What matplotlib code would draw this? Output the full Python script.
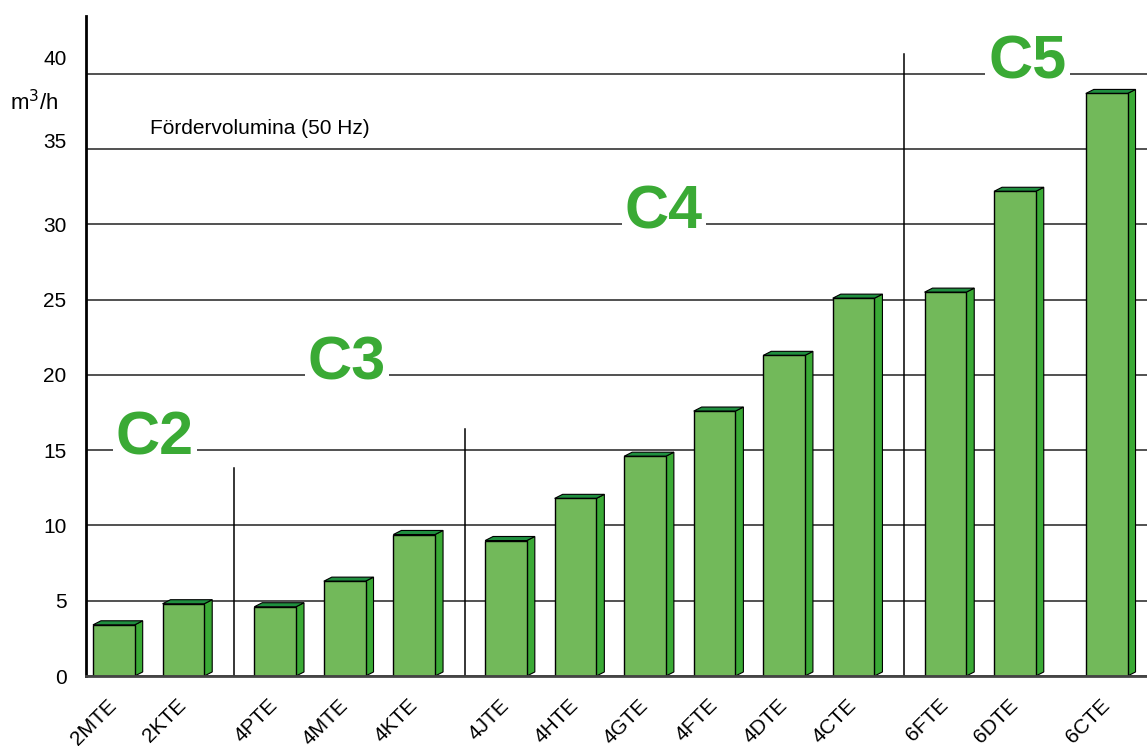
import matplotlib as mpl
mpl.use('Agg')
import matplotlib.pyplot as plt
from matplotlib.patches import Polygon
import numpy as np

plt.rcParams['font.family'] = ['Liberation Sans', 'DejaVu Sans']

# Data: pump models grouped by series, flow in m3/h (50 Hz)
groups = ['C2', 'C3', 'C4', 'C5']
models = [['2MTE', '2KTE'],
          ['4PTE', '4MTE', '4KTE'],
          ['4JTE', '4HTE', '4GTE', '4FTE', '4DTE', '4CTE'],
          ['6FTE', '6DTE', '6CTE']]
flows = [[3.4, 4.8],
         [4.6, 6.3, 9.4],
         [9.0, 11.8, 14.6, 17.6, 21.3, 25.1],
         [25.5, 32.2, 38.7]]
group_label_y = [15, 20, 30, 40]
grid_values = [0, 5, 10, 15, 20, 25, 30, 35, 40]
tick_label_pos = [0, 5, 10, 15, 20, 25, 30, 35.6, 41.1]
separator_tops = [13.8, 16.4, 41.3]

FACE = '#72b95a'
SIDE = '#3aaa35'
TOP = '#1f8f3f'
TEXT_GREEN = '#3aaa35'

gap = 0.32
width = 0.6
depth_x = 0.115
depth_y = 0.27

# x positions with an extra gap between groups (and before 6CTE)
xs, labels, vals = [], [], []
pos = 0.0
group_x = []
for gi, (names, vs) in enumerate(zip(models, flows)):
    start = pos
    for j, (n, v) in enumerate(zip(names, vs)):
        if n == '6CTE':
            pos += gap
        xs.append(pos)
        labels.append(n)
        vals.append(v)
        pos += 1
    group_x.append((start, pos - 1))
    pos += gap
xs = np.array(xs)

fig = plt.figure(figsize=(11.47, 7.46), dpi=100)
ax = fig.add_axes([0.075, 0.0938, 0.925, 0.8848])

ax.set_xlim(-0.40, 14.86)
ax.set_ylim(0, 43.85)

# gridlines
for g in grid_values:
    ax.axhline(g, color='#222222', lw=1.1, zorder=1)

# group separators
sep_x = [(group_x[i][1] + group_x[i + 1][0]) / 2 + 0.07 for i in range(3)]
for sx, top in zip(sep_x, separator_tops):
    ax.plot([sx, sx], [0, top], color='black', lw=1.1, zorder=1)

# 3D-ish bars
ax.bar(xs, vals, width=width, color=FACE, edgecolor='black', lw=1.0, zorder=3)
for x, v in zip(xs, vals):
    r = x + width / 2
    l = x - width / 2
    side = Polygon([[r, 0], [r + depth_x, depth_y], [r + depth_x, v + depth_y], [r, v]],
                   closed=True, facecolor=SIDE, edgecolor='black', lw=0.8, zorder=2.9)
    top = Polygon([[l, v], [l + depth_x, v + depth_y], [r + depth_x, v + depth_y], [r, v]],
                  closed=True, facecolor=TOP, edgecolor='black', lw=0.8, zorder=2.9)
    ax.add_patch(side)
    ax.add_patch(top)

# group labels on the gridlines
label_x = [0.59, 3.35, 7.91, 13.14]
for name, gx, gy in zip(groups, label_x, group_label_y):
    ax.text(gx, gy + 0.75, name, color=TEXT_GREEN, fontsize=44, fontweight='bold',
            ha='center', va='center', zorder=4,
            bbox=dict(facecolor='white', edgecolor='none', pad=2))

# axes styling
for s in ['top', 'right']:
    ax.spines[s].set_visible(False)
ax.spines['left'].set_color('black')
ax.spines['left'].set_linewidth(2)
ax.spines['bottom'].set_color('#444444')
ax.spines['bottom'].set_linewidth(2)
ax.spines['bottom'].set_zorder(5)

ax.set_yticks(tick_label_pos)
ax.set_yticklabels([str(g) for g in grid_values], fontsize=15)
ax.tick_params(axis='y', length=0, pad=14)

ax.set_xticks(xs)
ax.set_xticklabels(labels, rotation=45, ha='right', va='center',
                   rotation_mode='anchor', fontsize=15)
ax.tick_params(axis='x', length=0, pad=19)

fig.text(10 / 1147, 1 - 103 / 746, 'm$^3$/h', fontsize=16, ha='left', va='center')
ax.text(0.06, 0.829, 'Fördervolumina (50 Hz)', transform=ax.transAxes,
        fontsize=15, ha='left', va='center')

fig.savefig('out.png', dpi=100)
